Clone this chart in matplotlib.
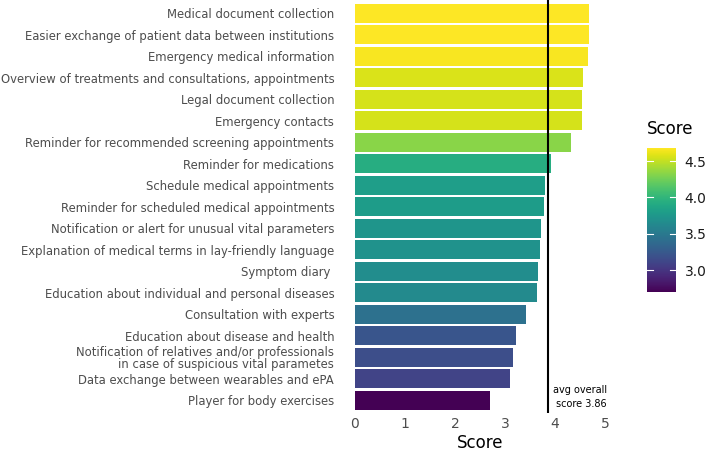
import matplotlib
matplotlib.use("Agg")
import matplotlib.pyplot as plt
import numpy as np
from matplotlib import cm, colors

categories = [
    "Medical document collection",
    "Easier exchange of patient data between institutions",
    "Emergency medical information",
    "Overview of treatments and consultations, appointments",
    "Legal document collection",
    "Emergency contacts",
    "Reminder for recommended screening appointments",
    "Reminder for medications",
    "Schedule medical appointments",
    "Reminder for scheduled medical appointments",
    "Notification or alert for unusual vital parameters",
    "Explanation of medical terms in lay-friendly language",
    "Symptom diary ",
    "Education about individual and personal diseases",
    "Consultation with experts",
    "Education about disease and health",
    "Notification of relatives and/or professionals\nin case of suspicious vital parametes",
    "Data exchange between wearables and ePA",
    "Player for body exercises",
]
scores = [4.68, 4.68, 4.66, 4.57, 4.55, 4.55, 4.33, 3.93, 3.80, 3.79,
          3.73, 3.71, 3.66, 3.64, 3.43, 3.22, 3.17, 3.10, 2.70]
avg_score = 3.86
xticks = [0, 1, 2, 3, 4, 5]
cbar_ticks = [3.0, 3.5, 4.0, 4.5]

plt.rcParams['font.family'] = ['DejaVu Sans']
fig = plt.figure(figsize=(7.08, 4.54), dpi=100)
ax = fig.add_axes([0.5014, 0.091, 0.3531, 0.909])

norm = colors.Normalize(vmin=min(scores), vmax=max(scores))
cmap = matplotlib.colormaps['viridis']
n = len(categories)
ypos = np.arange(n)[::-1]
ax.barh(ypos, scores, height=0.87, color=[cmap(norm(s)) for s in scores])
ax.set_ylim(-0.58, n - 1 + 0.62)
ax.set_xlim(0, 5)
ax.set_yticks(ypos)
ax.set_yticklabels(categories, fontsize=8.4, color='#4D4D4D', linespacing=0.95)
ax.set_xticks(xticks)
ax.set_xticklabels([str(t) for t in xticks], fontsize=10, color='#4D4D4D')
ax.tick_params(axis='both', length=0, pad=3)
ax.tick_params(axis='y', pad=15)
for s in ax.spines.values():
    s.set_visible(False)
ax.set_xlabel("Score", fontsize=12, labelpad=2)

ax.axvline(avg_score, color='black', lw=1.5)
ax.text(5.04, 0.15, "avg overall\nscore 3.86", ha='right', va='center',
        fontsize=7, color='black', linespacing=1.4, clip_on=False)

cax = fig.add_axes([0.914, 0.357, 0.041, 0.317])
sm = cm.ScalarMappable(norm=norm, cmap=cmap)
cb = fig.colorbar(sm, cax=cax, ticks=cbar_ticks)
cb.outline.set_visible(False)
cax.tick_params(length=0, labelsize=10, labelcolor='#1a1a1a', pad=6)
cax.set_yticklabels([f"{t:.1f}" for t in cbar_ticks])
for t in cbar_ticks:
    cax.plot([0, 0.2], [t, t], color='white', lw=0.8, zorder=5,
             transform=cax.get_yaxis_transform())
    cax.plot([0.8, 1.0], [t, t], color='white', lw=0.8, zorder=5,
             transform=cax.get_yaxis_transform())
cax.set_title("Score", fontsize=12, loc='left', pad=10)

fig.savefig("out.png", dpi=100)
